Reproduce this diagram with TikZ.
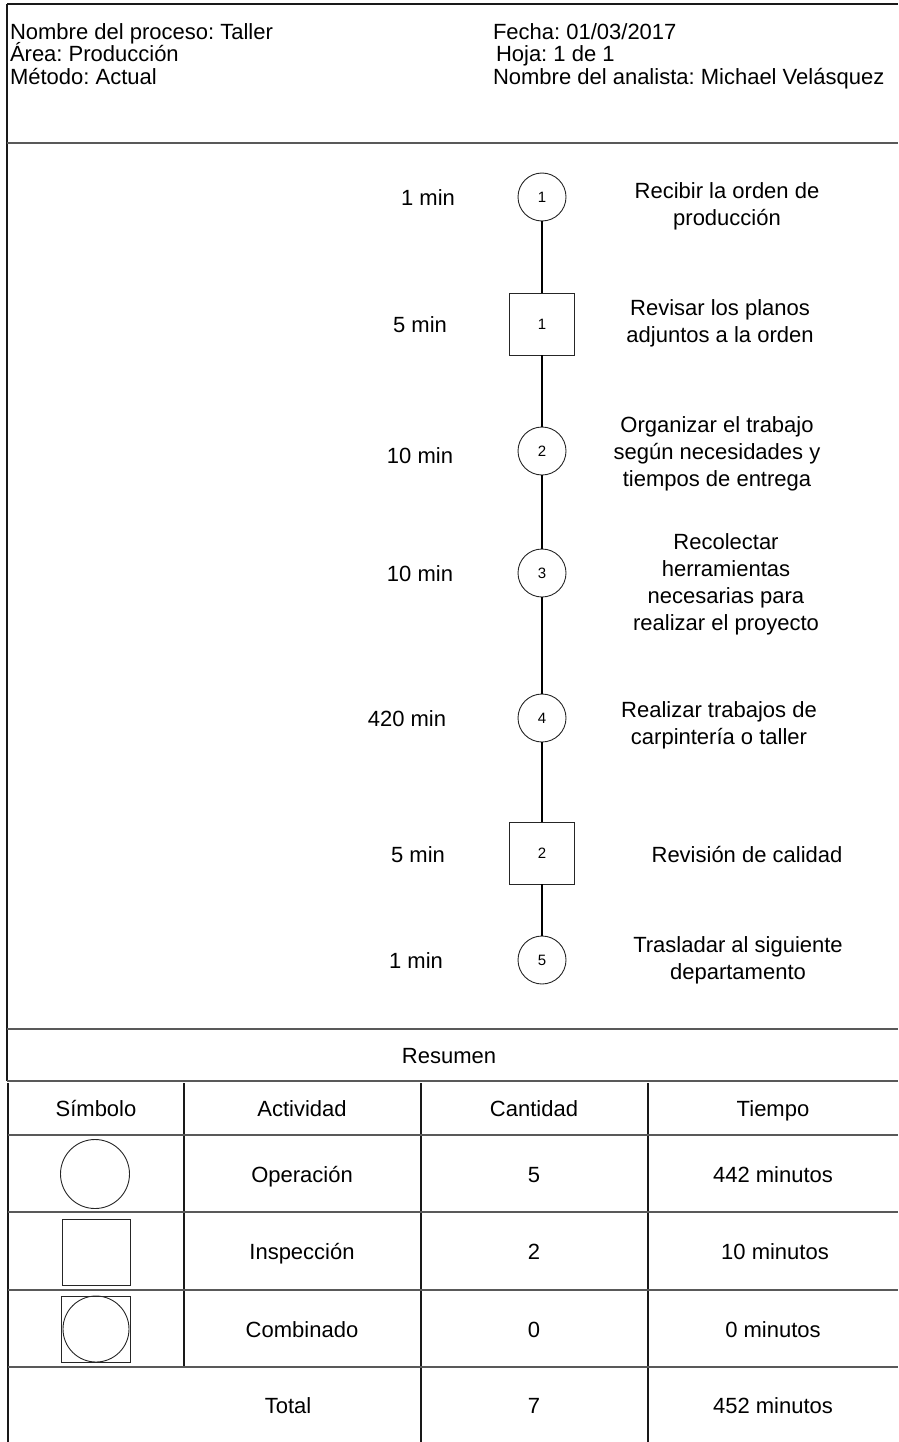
\documentclass[tikz,border=0pt]{standalone}
\usepackage{fontspec}
\setmainfont{Liberation Sans}
\frenchspacing
\begin{document}
\begin{tikzpicture}[x=1pt,y=-1pt,
  txt/.style={inner sep=0pt,outer sep=0pt,font=\fontsize{22}{27}\selectfont,text height=16pt,text depth=0pt},
  desc/.style={inner sep=0pt,outer sep=0pt,font=\fontsize{22}{27}\selectfont,align=center},
  opc/.style={draw=black!85,line width=0.9pt,circle,minimum size=48pt,inner sep=0pt,outer sep=0pt,font=\fontsize{15}{18}\selectfont},
  insp/.style={draw=black!85,line width=0.9pt,rectangle,minimum width=65pt,minimum height=62pt,inner sep=0pt,outer sep=0pt,font=\fontsize{15}{18}\selectfont},
  sym/.style={draw=black!85,line width=0.9pt,inner sep=0pt,outer sep=0pt},
  hline/.style={draw=black!65,line width=1.5pt},
  vline/.style={draw=black!90,line width=1.2pt},
  flow/.style={draw=black,line width=1.8pt}]
\useasboundingbox (0,0) rectangle (898,1442);
% frame
\coordinate (tl) at (7,4);
\coordinate (tr) at (898,4);
\coordinate (hl) at (7,143);
\coordinate (hr) at (898,143);
\coordinate (pl) at (7,1029);
\coordinate (pr) at (898,1029);
\coordinate (rl) at (7,1081);
\coordinate (rr) at (898,1081);
\draw[vline] (tl) -- (tr);
\draw[vline] (tl) -- (rl);
\draw[hline] (hl) -- (hr);
\draw[hline] (pl) -- (pr);
\draw[hline] (rl) -- (rr);
% header
\node[txt,anchor=base west] (h1) at (10,40) {Nombre del proceso: Taller};
\node[txt,anchor=base west] (h2) at (10,62) {Área: Producción};
\node[txt,anchor=base west] (h3) at (10,85) {Método: Actual};
\node[txt,anchor=base west] (h4) at (493,40) {Fecha: 01/03/2017};
\node[txt,anchor=base west] (h5) at (496,62) {Hoja: 1 de 1};
\node[txt,anchor=base west] (h6) at (493,85) {Nombre del analista: Michael Velásquez};
% process
\node[opc] (o1) at (542,197) {1};
\node[insp] (i1) at (542,324) {1};
\node[opc] (o2) at (542,451) {2};
\node[opc] (o3) at (542,573) {3};
\node[opc] (o4) at (542,718) {4};
\node[insp] (i2) at (542,853) {2};
\node[opc] (o5) at (542,960) {5};
\draw[flow] (o1) -- (i1) -- (o2) -- (o3) -- (o4) -- (i2) -- (o5);
% times
\node[txt] (t1) at (428,197) {1 min};
\node[txt] (t2) at (420,324) {5 min};
\node[txt] (t3) at (420,455) {10 min};
\node[txt] (t4) at (420,573) {10 min};
\node[txt] (t5) at (407,718) {420 min};
\node[txt] (t6) at (418,854) {5 min};
\node[txt] (t7) at (416,960) {1 min};
% descriptions
\node[desc] (d1) at (727,206) {Recibir la orden de\\producción};
\node[desc] (d2) at (720,323) {Revisar los planos\\adjuntos a la orden};
\node[desc] (d3) at (717,454) {Organizar el trabajo\\según necesidades y\\tiempos de entrega};
\node[desc] (d4) at (726,584) {Recolectar\\herramientas\\necesarias para\\realizar el proyecto};
\node[desc] (d5) at (719,725) {Realizar trabajos de\\carpintería o taller};
\node[txt] (d6) at (747,854) {Revisión de calidad};
\node[desc] (d7) at (738,960) {Trasladar al siguiente\\departamento};
% resumen
\node[txt] (res) at (449,1055) {Resumen};
% table
\coordinate (a0) at (8,1083);
\coordinate (a1) at (184,1083);
\coordinate (a2) at (421,1083);
\coordinate (a3) at (648,1083);
\coordinate (b0) at (8,1442);
\coordinate (b1) at (184,1367);
\coordinate (b2) at (421,1442);
\coordinate (b3) at (648,1442);
\draw[vline] (a0) -- (b0);
\draw[vline] (a1) -- (b1);
\draw[vline] (a2) -- (b2);
\draw[vline] (a3) -- (b3);
\foreach \yy/\nm in {1135/r1,1212/r2,1290/r3,1367/r4}{
  \coordinate (\nm l) at (8,\yy);
  \coordinate (\nm r) at (898,\yy);
  \draw[hline] (\nm l) -- (\nm r);
}
\node[txt] (c1) at (96,1108) {Símbolo};
\node[txt] (c2) at (302,1108) {Actividad};
\node[txt] (c3) at (534,1108) {Cantidad};
\node[txt] (c4) at (773,1108) {Tiempo};
\node[sym,circle,minimum size=69pt] (s1) at (95,1174) {};
\node[txt] (a1t) at (302,1174) {Operación};
\node[txt] (q1) at (534,1174) {5};
\node[txt] (m1) at (773,1174) {442 minutos};
\node[sym,rectangle,minimum width=68pt,minimum height=66pt] (s2) at (96,1252) {};
\node[txt] (a2t) at (302,1251) {Inspección};
\node[txt] (q2) at (534,1251) {2};
\node[txt] (m2) at (775,1251) {10 minutos};
\node[sym,rectangle,minimum width=69pt,minimum height=66pt] (s3) at (96,1329) {};
\node[sym,circle,minimum size=66pt] (s3c) at (96,1329) {};
\node[txt] (a3t) at (302,1329) {Combinado};
\node[txt] (q3) at (534,1329) {0};
\node[txt] (m3) at (773,1329) {0 minutos};
\node[txt] (tot) at (288,1405) {Total};
\node[txt] (q4) at (534,1405) {7};
\node[txt] (m4) at (773,1405) {452 minutos};
\end{tikzpicture}
\end{document}
